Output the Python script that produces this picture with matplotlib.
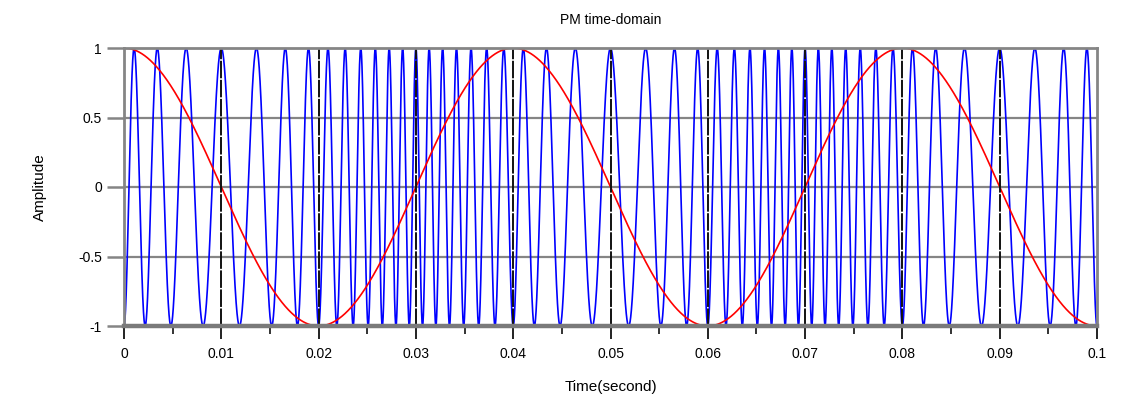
import numpy as np
import matplotlib
matplotlib.use("Agg")
import matplotlib.pyplot as plt

# ---- values ----
title = "PM time-domain"
x_label = "Time(second)"
y_label = "Amplitude"
x_ticks = [0, 0.01, 0.02, 0.03, 0.04, 0.05, 0.06, 0.07, 0.08, 0.09, 0.1]
x_tick_labels = ["0", "0.01", "0.02", "0.03", "0.04", "0.05", "0.06", "0.07", "0.08", "0.09", "0.1"]
y_ticks = [-1, -0.5, 0, 0.5, 1]
y_tick_labels = ["-1", "-0.5", "0", "0.5", "1"]
t_start, t_stop = 0.0, 0.1          # seconds shown
message_freq_hz = 25                # red message: peaks at 0, 0.04, 0.08
message_amplitude = 1.0
carrier_freq_hz = 500               # blue carrier
phase_deviation_rad = 3 * np.pi     # blue phase sensitivity (troughs at 0, 0.02, 0.04 ...)

# ---- signals ----
t = np.linspace(t_start, t_stop, 20001)
message = message_amplitude * np.cos(2 * np.pi * message_freq_hz * t)
pm_signal = np.cos(2 * np.pi * carrier_freq_hz * t + phase_deviation_rad * message)

plt.rcParams['font.family'] = ['Liberation Sans', 'DejaVu Sans']

fig = plt.figure(figsize=(11.21, 4.05), dpi=100)
ax = fig.add_axes([124/1121, 1 - 326/405, (1097 - 124)/1121, (326 - 48)/405])

grid_gray = "#858585"
# horizontal grid (under curves)
for yv in [-0.5, 0, 0.5]:
    ax.axhline(yv, color=grid_gray, lw=1.6, zorder=1)

ax.plot(t, pm_signal, color="#0000ff", lw=1.2, zorder=2)
ax.plot(t, message, color="#ff0000", lw=1.2, zorder=3)

# vertical grid (dark dashed, over curves)
for xv in x_ticks[1:-1]:
    ax.axvline(xv, color="#111111", lw=1.4, dashes=(9, 0.8), zorder=4)

ax.set_xlim(t_start, t_stop)
ax.set_ylim(-1, 1)

for side in ["top", "right", "left"]:
    ax.spines[side].set_color(grid_gray)
    ax.spines[side].set_linewidth(2.0)
ax.spines["bottom"].set_color("#7a7a7a")
ax.spines["bottom"].set_linewidth(3.2)
for s in ax.spines.values():
    s.set_zorder(5)

ax.set_xticks(x_ticks)
ax.set_xticklabels(x_tick_labels)
ax.set_xticks([0.005 + 0.01 * i for i in range(10)], minor=True)
ax.set_yticks(y_ticks)
ax.set_yticklabels(y_tick_labels)

ax.tick_params(axis="x", which="major", direction="out", length=9, width=1.3,
               color="#111111", labelsize=10, pad=6)
ax.tick_params(axis="x", which="minor", direction="out", length=6, width=1.2,
               color="#111111")
ax.tick_params(axis="y", which="major", direction="out", length=12, width=1.8,
               color=grid_gray, labelsize=10, pad=4)

ax.set_title(title, fontsize=10, pad=17)
ax.set_xlabel(x_label, fontsize=11, labelpad=14)
ax.set_ylabel(y_label, fontsize=11, labelpad=22)

fig.savefig("out.png", dpi=100)
